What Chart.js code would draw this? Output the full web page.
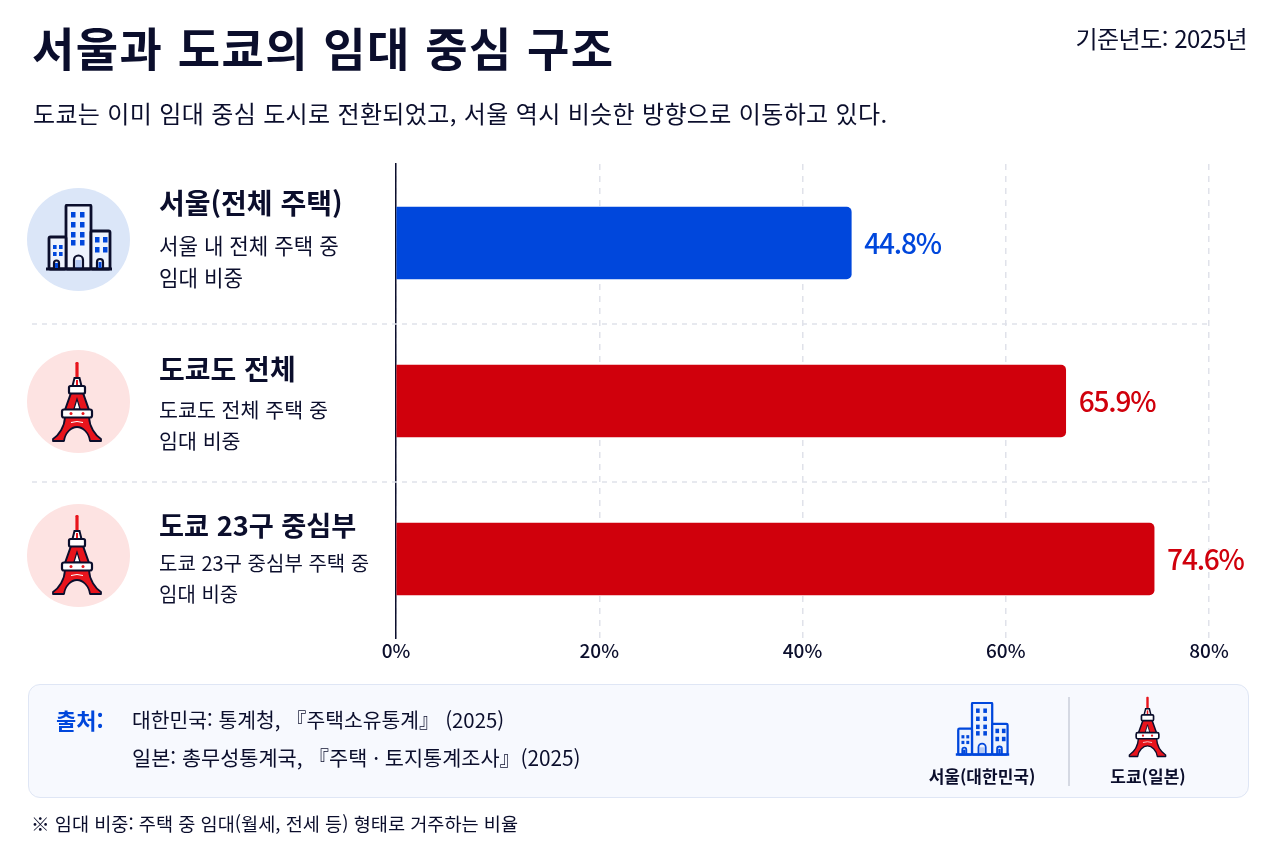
<!DOCTYPE html>
<html lang="ko">
<head>
<meta charset="utf-8">
<title>서울과 도쿄의 임대 중심 구조</title>
<script src="https://cdn.jsdelivr.net/npm/chart.js@4/dist/chart.umd.min.js"></script>
<style>
  html, body { margin: 0; padding: 0; background: #fff; }
  body { position: relative; width: 1280px; height: 853px; overflow: hidden; font-family: "Noto Sans CJK KR", "Noto Sans", sans-serif; color: #0b0e2c; }
  canvas { position: absolute; left: 0; top: 0; }
  .t { position: absolute; white-space: nowrap; line-height: 1; transform: translateY(-50%); z-index: 2; }
  .c { transform: translate(-50%, -50%); }
  .circle { position: absolute; width: 103px; height: 103px; border-radius: 50%; z-index: 1; }
  svg.icon { position: absolute; z-index: 2; overflow: visible; }
  .panel { position: absolute; left: 28px; top: 684px; width: 1219px; height: 112px; background: #f7f9fe; border: 1.5px solid #dfe6f5; border-radius: 12px; }
  .divider { position: absolute; left: 1068px; top: 697px; width: 1.5px; height: 89px; background: #d5d9e3; z-index: 2; }
</style>
</head>
<body>
<svg width="0" height="0" style="position:absolute">
  <symbol id="buildings" viewBox="0 0 68 68">
    <rect x="21" y="1" width="25" height="64" rx="1.5" fill="#eef3fd" stroke="currentColor" stroke-width="2.8"/>
    <rect x="4" y="33" width="17" height="32" rx="1.5" fill="#eef3fd" stroke="currentColor" stroke-width="2.8"/>
    <rect x="46" y="27" width="19" height="38" rx="1.5" fill="#eef3fd" stroke="currentColor" stroke-width="2.8"/>
    <path d="M1 65H67" stroke="currentColor" stroke-width="3"/>
    <g fill="#0047dc">
      <rect x="26" y="8" width="4.5" height="5.5"/><rect x="35" y="8" width="4.5" height="5.5"/>
      <rect x="26" y="18" width="4.5" height="5.5"/><rect x="35" y="18" width="4.5" height="5.5"/>
      <rect x="26" y="28" width="4.5" height="5.5"/><rect x="35" y="28" width="4.5" height="5.5"/>
      <rect x="26" y="36" width="4.5" height="5.5"/><rect x="35" y="36" width="4.5" height="5.5"/>
      <rect x="8" y="41" width="3.6" height="4"/><rect x="14" y="41" width="3.6" height="4"/>
      <rect x="8" y="48" width="3.6" height="4"/><rect x="14" y="48" width="3.6" height="4"/>
      <rect x="50" y="33" width="4.5" height="5.5"/><rect x="58" y="33" width="4.5" height="5.5"/>
      <rect x="50" y="43" width="4.5" height="5.5"/><rect x="58" y="43" width="4.5" height="5.5"/>
    </g>
    <g fill="none" stroke="currentColor" stroke-width="2.2">
      <path d="M29 65V56a4.5 4.5 0 0 1 9 0V65"/>
      <path d="M9 65V59a2.5 2.5 0 0 1 5 0V65"/>
      <path d="M52 65V58a3 3 0 0 1 6 0V65"/>
    </g>
    <g fill="#0047dc">
      <rect x="30.5" y="56" width="6" height="8" opacity=".25"/>
      <rect x="10" y="59" width="3" height="5"/>
      <rect x="53.5" y="58" width="3" height="6"/>
    </g>
  </symbol>
  <symbol id="tower" viewBox="0 0 50 82">
    <rect x="23.4" y="1" width="3.2" height="16" rx="1.2" fill="#e8141c"/>
    <path d="M22.5 17L20.5 25H29.5L27.5 17Z" fill="#fff" stroke="#0b0e2c" stroke-width="2"/>
    <path d="M24 19H26V24H24Z" fill="#e8141c"/>
    <path d="M19 32L13 49H37L31 32Z" fill="#e8141c" stroke="#0b0e2c" stroke-width="2"/>
    <path d="M25 38L22 48H28Z" fill="#fff" stroke="#0b0e2c" stroke-width="1.2"/>
    <rect x="17" y="25" width="16" height="7.5" rx="1.5" fill="#fff" stroke="#0b0e2c" stroke-width="2.2"/>
    <path d="M13 56C12.5 66 7 74 1 78V80H12C13 72 19 66 25 66C31 66 37 72 38 80H49V78C43 74 37.5 66 37 56Z" fill="#e8141c" stroke="#0b0e2c" stroke-width="1.8" stroke-linejoin="round"/>
    <rect x="10" y="48.5" width="30" height="8" rx="2" fill="#fff" stroke="#0b0e2c" stroke-width="2.2"/>
    <circle cx="19" cy="52.5" r="1.5" fill="#e8141c"/><circle cx="31" cy="52.5" r="1.5" fill="#e8141c"/>
    <path d="M19 61.5Q25 59.5 31 61.5" fill="none" stroke="#fff" stroke-width="1"/>
  </symbol>
</svg>

<div class="panel"></div>
<div class="divider"></div>
<canvas id="rent-share-chart" width="1280" height="853"></canvas>

<div class="t" style="left:32px;top:46px;font-size:46px;font-weight:700;letter-spacing:1.45px">서울과 도쿄의 임대 중심 구조</div>
<div class="t" style="right:33px;top:38px;font-size:24px;letter-spacing:-.5px">기준년도: 2025년</div>
<div class="t" style="left:33px;top:113px;font-size:24px;letter-spacing:.35px">도쿄는 이미 임대 중심 도시로 전환되었고, 서울 역시 비슷한 방향으로 이동하고 있다.</div>

<div class="circle" style="left:27px;top:188px;background:#dbe6f8"></div>
<div class="circle" style="left:27px;top:350px;background:#fde3e2"></div>
<div class="circle" style="left:27px;top:504px;background:#fde3e2"></div>
<svg class="icon" style="left:45px;top:204px;color:#0b0e2c" width="68" height="68"><use href="#buildings"/></svg>
<svg class="icon" style="left:52px;top:361px" width="50" height="82"><use href="#tower"/></svg>
<svg class="icon" style="left:52px;top:514px" width="50" height="82"><use href="#tower"/></svg>

<div id="row-text"></div>

<div class="t" style="left:56px;top:719px;font-size:22px;font-weight:700;color:#0047dc">출처:</div>
<div class="t" style="left:132px;top:719px;font-size:20.4px">대한민국: 통계청, 『주택소유통계』 (2025)</div>
<div class="t" style="left:132px;top:757px;font-size:20.8px">일본: 총무성통계국, 『주택 · 토지통계조사』(2025)</div>
<svg class="icon" style="left:954px;top:702px;color:#0047dc" width="57" height="55"><use href="#buildings"/></svg>
<svg class="icon" style="left:1127px;top:696px" width="41" height="62"><use href="#tower"/></svg>
<div class="t c" style="left:982px;top:775px;font-size:17px;font-weight:700">서울(대한민국)</div>
<div class="t c" style="left:1148px;top:775px;font-size:17px;font-weight:700">도쿄(일본)</div>
<div class="t" style="left:31px;top:823px;font-size:18.6px">※ 임대 비중: 주택 중 임대(월세, 전세 등) 형태로 거주하는 비율</div>

<script>
const categories = ["서울(전체 주택)", "도쿄도 전체", "도쿄 23구 중심부"];
const descriptions = ["서울 내 전체 주택 중", "도쿄도 전체 주택 중", "도쿄 23구 중심부 주택 중"];
const descriptionTail = "임대 비중";
const rentShare = [44.8, 65.9, 74.6];
const barColors = ["#0047dc", "#d0000c", "#d0000c"];
const tickValues = [0, 20, 40, 60, 80];

const FONT = '"Noto Sans CJK KR", "Noto Sans", sans-serif';
const NAVY = "#0b0e2c";
const GRID = "#e0e2ea";

// text next to the bars
const titleY = [202, 368, 525];
const titleSize = [28, 28, 27.2];
const lineY = [[245, 277], [409, 440], [563, 594]];
const lineSize = [21.2, 20.6, 20];
const rowText = document.getElementById("row-text");
categories.forEach((name, i) => {
  rowText.insertAdjacentHTML("beforeend",
    `<div class="t" style="left:159px;top:${titleY[i]}px;font-size:${titleSize[i]}px;font-weight:700">${name}</div>` +
    `<div class="t" style="left:159px;top:${lineY[i][0]}px;font-size:${lineSize[i]}px">${descriptions[i]}</div>` +
    `<div class="t" style="left:159px;top:${lineY[i][1]}px;font-size:${lineSize[i]}px">${descriptionTail}</div>`);
});

// dashed separators between rows, they run past the axis to the left
const rowSeparators = {
  id: "rowSeparators",
  beforeDatasetsDraw(chart) {
    const { ctx, scales: { x, y } } = chart;
    ctx.save();
    ctx.strokeStyle = GRID;
    ctx.lineWidth = 1.5;
    ctx.setLineDash([5, 5]);
    for (let i = 0; i < categories.length - 1; i++) {
      const py = (y.getPixelForValue(i) + y.getPixelForValue(i + 1)) / 2 + 2;
      ctx.beginPath();
      ctx.moveTo(32, py);
      ctx.lineTo(x.right, py);
      ctx.stroke();
    }
    ctx.restore();
  }
};

const valueLabels = {
  id: "valueLabels",
  afterDatasetsDraw(chart) {
    const { ctx } = chart;
    ctx.save();
    ctx.font = "500 28px " + FONT;
    ctx.letterSpacing = "-1.2px";
    ctx.textAlign = "left";
    ctx.textBaseline = "middle";
    chart.getDatasetMeta(0).data.forEach((bar, i) => {
      ctx.fillStyle = barColors[i];
      ctx.fillText(rentShare[i].toFixed(1) + "%", bar.x + 13, bar.y);
    });
    ctx.restore();
  }
};

new Chart(document.getElementById("rent-share-chart").getContext("2d"), {
  type: "bar",
  data: {
    labels: categories,
    datasets: [{
      data: rentShare,
      backgroundColor: barColors,
      barThickness: 72,
      borderRadius: 5,
      borderSkipped: "left"
    }]
  },
  plugins: [rowSeparators, valueLabels],
  options: {
    indexAxis: "y",
    responsive: false,
    animation: false,
    layout: { padding: { left: 396, right: 71, top: 164, bottom: 853 - 638 - 26 } },
    plugins: { legend: { display: false }, tooltip: { enabled: false } },
    scales: {
      x: {
        min: 0,
        max: 80,
        afterBuildTicks(scale) { scale.ticks = tickValues.map((value) => ({ value })); },
        afterFit(scale) { scale.height = 26; },
        border: { display: false, dash: [6, 6] },
        grid: { color: GRID, lineWidth: 1.5, tickLength: 0, drawTicks: false },
        ticks: {
          color: NAVY,
          padding: 1,
          maxRotation: 0,
          font: { family: FONT, size: 19, weight: "500" },
          callback: (value) => value + "%"
        }
      },
      y: {
        afterFit(scale) { scale.width = 0; },
        border: { display: true, color: NAVY, width: 1.5 },
        grid: { display: false },
        ticks: { display: false }
      }
    }
  }
});
</script>
</body>
</html>
